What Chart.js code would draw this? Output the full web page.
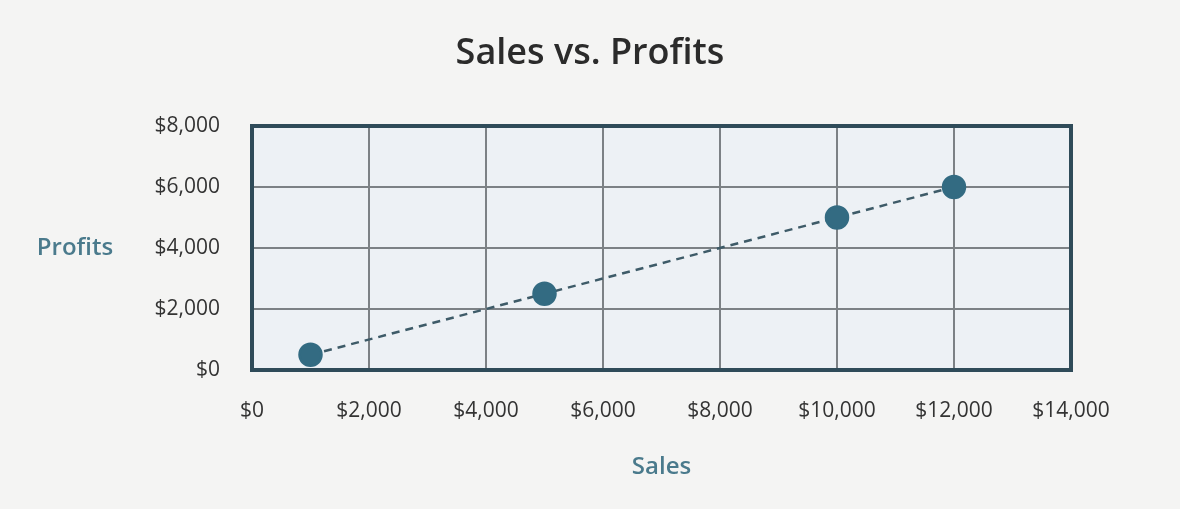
<!DOCTYPE html>
<html>
<head>
<meta charset="utf-8">
<script src="https://cdn.jsdelivr.net/npm/chart.js@4.4.0/dist/chart.umd.min.js"></script>
<style>
  html, body { margin: 0; padding: 0; background: #f4f4f3; }
  #wrap { width: 1180px; height: 509px; position: relative; }
</style>
</head>
<body>
<div id="wrap"><canvas id="miGrafica"></canvas></div>
<script>
// datos
var sales = [1000, 5000, 10000, 12000];
var profits = [500, 2500, 5000, 6000];
var xTicks = [0, 2000, 4000, 6000, 8000, 10000, 12000, 14000];
var yTicks = [0, 2000, 4000, 6000, 8000];
var chartTitle = 'Sales vs. Profits';
var xTitle = 'Sales';
var yTitle = 'Profits';

var FONT = '"Open Sans", "Noto Sans", sans-serif';

function money(v) {
  return '$' + Number(v).toLocaleString('en-US');
}

// fondo, area del grafico, borde y textos
var decor = {
  id: 'decor',
  beforeDraw: function (chart) {
    var c = chart.ctx, a = chart.chartArea;
    c.save();
    c.fillStyle = '#f4f4f3';
    c.fillRect(0, 0, chart.width, chart.height);
    c.fillStyle = '#edf1f5';
    c.fillRect(a.left, a.top, a.right - a.left, a.bottom - a.top);
    c.restore();
  },
  beforeDatasetsDraw: function (chart) {
    var c = chart.ctx, a = chart.chartArea;
    c.save();
    c.strokeStyle = '#2f4b59';
    c.lineWidth = 4;
    c.strokeRect(a.left, a.top, a.right - a.left, a.bottom - a.top);
    c.restore();
  },
  afterDraw: function (chart) {
    var c = chart.ctx;
    c.save();
    c.textAlign = 'center';
    c.textBaseline = 'middle';
    c.fillStyle = '#2b2b2b';
    c.font = '600 36px ' + FONT;
    c.fillText(chartTitle, 590, 54);
    c.fillStyle = '#4a7a8c';
    c.font = '600 24px ' + FONT;
    c.fillText(yTitle, 75, 248);
    c.restore();
  }
};

var ctx = document.getElementById('miGrafica').getContext('2d');
var chart = new Chart(ctx, {
  type: 'scatter',
  data: {
    datasets: [{
      label: 'Profits',
      data: sales.map(function (s, i) { return { x: s, y: profits[i] }; }),
      showLine: true,
      borderColor: '#3e5b68',
      borderWidth: 2.5,
      borderDash: [8, 6],
      backgroundColor: '#336b82',
      pointBackgroundColor: '#336b82',
      pointBorderColor: '#336b82',
      pointRadius: 11,
      pointHoverRadius: 11
    }]
  },
  options: {
    responsive: true,
    maintainAspectRatio: false,
    animation: false,
    layout: { padding: { top: 126, right: 109, left: 0, bottom: 0 } },
    plugins: {
      legend: { display: false },
      title: { display: false },
      tooltip: { enabled: false }
    },
    scales: {
      x: {
        type: 'linear',
        min: xTicks[0],
        max: xTicks[xTicks.length - 1],
        afterBuildTicks: function (s) { s.ticks = xTicks.map(function (v) { return { value: v }; }); },
        afterFit: function (s) { s.height = 139; },
        grid: { color: '#7c8185', lineWidth: 2, drawTicks: false },
        border: { display: false },
        ticks: {
          padding: 28,
          color: '#333333',
          font: { family: FONT, size: 21 },
          maxRotation: 0,
          callback: function (v) { return money(v); }
        },
        title: {
          display: true,
          text: xTitle,
          color: '#4a7a8c',
          font: { family: FONT, size: 24, weight: '600' },
          padding: { top: 0, bottom: 27 }
        }
      },
      y: {
        type: 'linear',
        min: yTicks[0],
        max: yTicks[yTicks.length - 1],
        afterBuildTicks: function (s) { s.ticks = yTicks.map(function (v) { return { value: v }; }); },
        afterFit: function (s) { s.width = 252; },
        grid: { color: '#7c8185', lineWidth: 2, drawTicks: false },
        border: { display: false },
        ticks: {
          padding: 32,
          color: '#333333',
          font: { family: FONT, size: 21 },
          callback: function (v) { return money(v); }
        }
      }
    }
  },
  plugins: [decor]
});
</script>
</body>
</html>
